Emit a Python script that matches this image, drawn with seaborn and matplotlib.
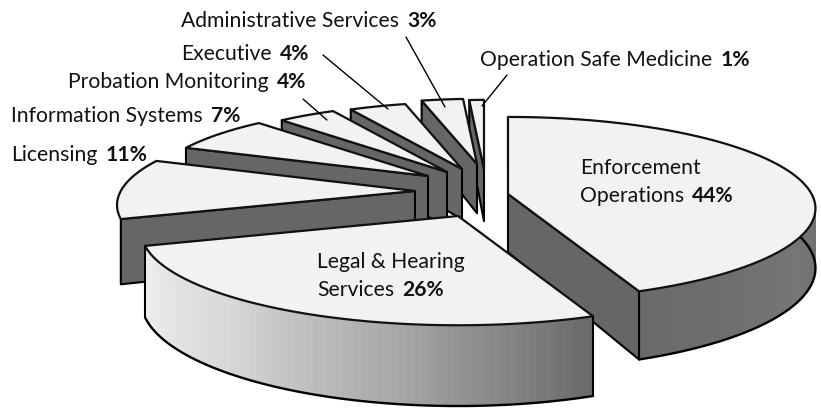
import matplotlib
matplotlib.use("Agg")
import matplotlib.pyplot as plt
import seaborn as sns
import numpy as np

# budget shares, clockwise from 12 o'clock
names = ["Enforcement\nOperations", "Legal & Hearing\nServices", "Licensing", "Information Systems",
         "Probation Monitoring", "Executive", "Administrative Services", "Operation Safe Medicine"]
shares = [44, 26, 11, 7, 4, 4, 3, 1]
pct_labels = ["44%", "26%", "11%", "7%", "4%", "4%", "3%", "1%"]

# where each exploded slice has its point, how big it is and how thick
apex_px = [(508, 195), (458, 217), (415, 192), (428, 177), (447, 173), (462, 170), (477, 165), (484, 170)]
scale = [0.97, 1.0, 0.94, 0.88, 0.86, 0.84, 0.82, 0.87]
thick = [60, 68, 66, 60, 60, 60, 60, 60]
label_xy = [(580, 168), (317, 262), (11, 155), (11, 116), (68, 82), (181, 54), (181, 21), (480, 60)]
leaders = [((406, 38), (445, 108)), ((323, 56), (388, 110)), ((303, 100), (327, 121)), ((507, 76), (482, 107))]

RX, RY, PERSP = 313, 92, 0.158
TOP = "#f2f2f2"
DARK = "#666666"
FS = 15.2

sns.set_theme(style="white")
plt.rcParams["font.family"] = ["Lato", "DejaVu Sans"]


def project(theta, s, apex, drop=0.0):
    u, v = np.sin(theta), -np.cos(theta)
    w = 1 - PERSP * v
    return np.column_stack([apex[0] + RX * s * u / w, apex[1] + RY * s * v / w + drop / w])


def put_label(ax, x, y, name, pct):
    # regular text line(s), with the bold percentage running on after the last line
    lines = name.split("\n")
    r = fig.canvas.get_renderer()
    for i, line in enumerate(lines):
        t = ax.text(x, y + i * 28.5, line, fontsize=FS, color="#111111", va="center", ha="left", zorder=900)
    box = t.get_window_extent(r)
    ax.text(box.x1 + 8, y + (len(lines) - 1) * 28.5, pct, fontsize=FS, fontweight="bold",
            color="#111111", va="center", ha="left", zorder=900)


fig, ax = plt.subplots(figsize=(8.21, 4.10), dpi=100)
fig.subplots_adjust(0, 0, 1, 1)
ax.set_xlim(0, 821)
ax.set_ylim(410, 0)
ax.axis("off")

edges = np.radians(np.concatenate([[0], np.cumsum(shares)]) * 3.6)

# back slices first, the two big front ones last
z = 1
for i in [7, 6, 5, 4, 3, 2, 0, 1]:
    a0, a1 = edges[i], edges[i + 1]
    s, apex, d = scale[i], apex_px[i], thick[i]
    th = np.linspace(a0, a1, 80)
    rim_top = project(th, s, apex)
    rim_low = project(th, s, apex, d * s)

    # outer rim, only the two big slices show one; thin strips so it can shade along the curve
    if i <= 1:
        if i == 1:
            pal = sns.blend_palette(["#6a6a6a", "#a8a8a8", "#d8d8d8", "#f0f0f0"], len(th) - 1)
        else:
            pal = sns.blend_palette(["#555555", "#5a5a5a", "#6a6a6a", "#767676", "#6a6a6a"], len(th) - 1)
        for k in range(len(th) - 1):
            ax.fill([rim_top[k, 0], rim_top[k + 1, 0], rim_low[k + 1, 0], rim_low[k, 0]],
                    [rim_top[k, 1], rim_top[k + 1, 1], rim_low[k + 1, 1], rim_low[k, 1]],
                    fc=pal[k], ec=pal[k], lw=0.8, zorder=z)
        z += 1
        ax.plot(rim_low[:, 0], rim_low[:, 1], color="black", lw=1.7, zorder=z)
        for end in (0, -1):
            ax.plot([rim_top[end, 0], rim_low[end, 0]], [rim_top[end, 1], rim_low[end, 1]],
                    color="black", lw=1.5, zorder=z)
        z += 1

    # the cut face that looks at the viewer: closing edge for enforcement, opening edge
    # for the back slices, none for legal
    if i != 1:
        a = a1 if i == 0 else a0
        p = project(np.array([a]), s, apex)[0]
        q = project(np.array([a]), s, apex, d * s)[0]
        ax.fill([apex[0], p[0], q[0], apex[0]], [apex[1], p[1], q[1], apex[1] + d * s],
                fc=DARK, ec="black", lw=1.5, joinstyle="round", zorder=z)
        z += 1

    # top surface
    ax.fill(np.r_[apex[0], rim_top[:, 0]], np.r_[apex[1], rim_top[:, 1]], fc=TOP, ec="#111111", lw=1.6,
            joinstyle="round", zorder=z)
    z += 1

fig.canvas.draw()
for i in range(len(names)):
    put_label(ax, label_xy[i][0], label_xy[i][1], names[i], pct_labels[i])

for start, end in leaders:
    ax.annotate("", xy=end, xytext=start, zorder=900,
                arrowprops=dict(arrowstyle="-", color="black", lw=1.0, shrinkA=0, shrinkB=0))

fig.savefig("out.png", dpi=100)
